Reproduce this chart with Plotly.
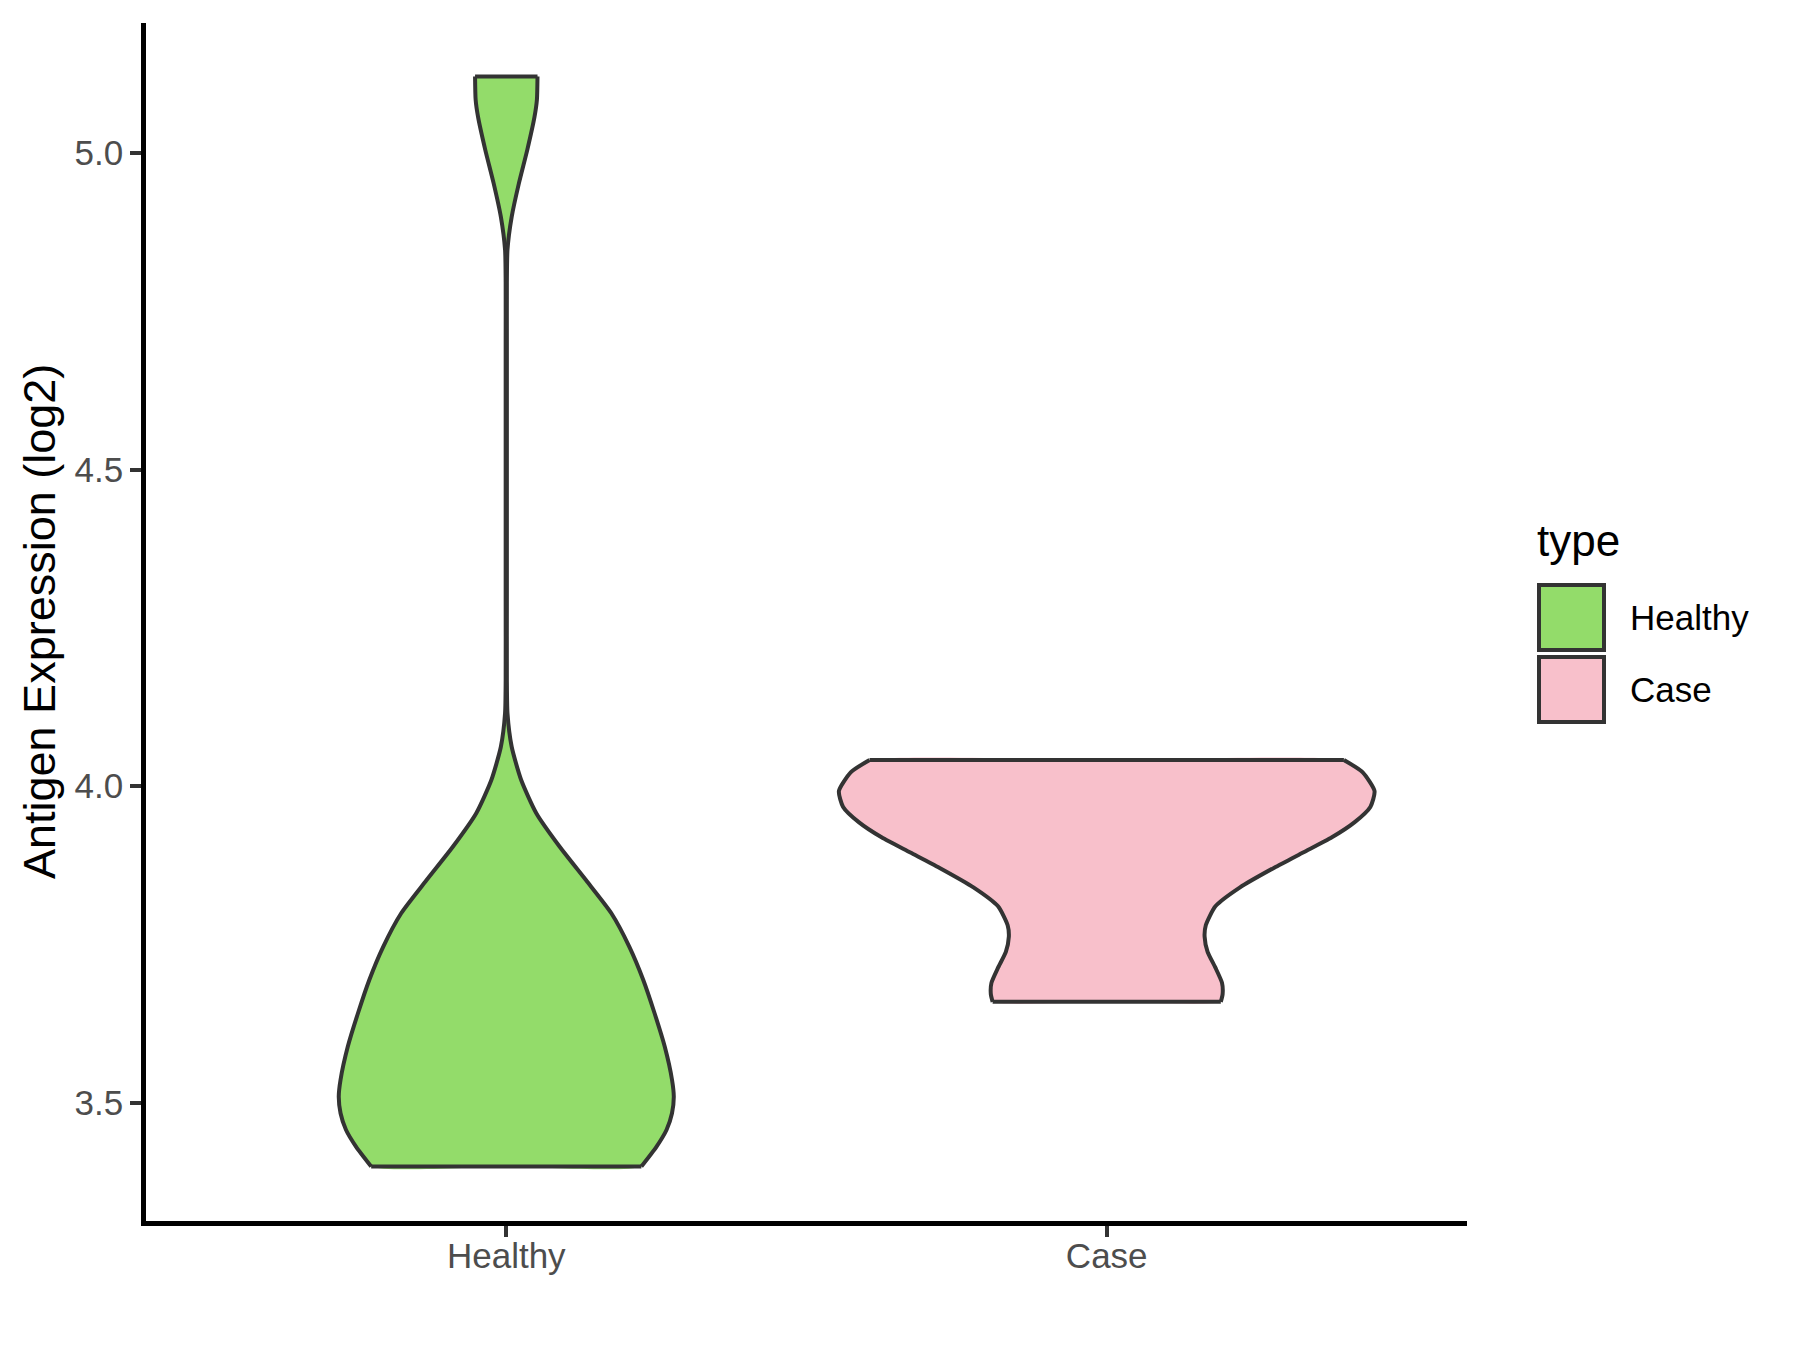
"""
Violin plot of antigen expression (log2), Healthy vs Case.

The violin outlines are read off the original ggplot figure: for each group
a list of expression levels and the half-width of the violin at that level
(in x-axis category units, 0.45 = widest violin).
"""

import plotly.graph_objects as go

# ─────────────────────────────────────────────────────────────────
# Data
# ─────────────────────────────────────────────────────────────────

categories = ["Healthy", "Case"]
fill_colors = ["#93DC6A", "#F8C0CB"]

healthy_y = [3.399, 3.430, 3.457, 3.483, 3.509, 3.536, 3.588, 3.641, 3.694,
             3.746, 3.799, 3.851, 3.904, 3.957, 4.009, 4.062, 4.115, 4.167,
             4.300, 4.500, 4.700, 4.795, 4.847, 4.899, 4.952, 5.005, 5.057,
             5.084, 5.121]
healthy_hw = [0.225, 0.250, 0.267, 0.276, 0.279, 0.276, 0.264, 0.247, 0.228,
              0.205, 0.175, 0.133, 0.089, 0.050, 0.025, 0.009, 0.002, 0.001,
              0.001, 0.001, 0.001, 0.001, 0.002, 0.009, 0.021, 0.035, 0.047,
              0.051, 0.052]

case_y = [3.659, 3.671, 3.689, 3.713, 3.738, 3.762, 3.780, 3.810, 3.840,
          3.871, 3.895, 3.919, 3.943, 3.967, 3.992, 4.022, 4.041]
case_hw = [0.190, 0.193, 0.192, 0.181, 0.168, 0.163, 0.165, 0.181, 0.222,
           0.279, 0.327, 0.375, 0.413, 0.439, 0.446, 0.426, 0.395]

y_ticks = [3.5, 4.0, 4.5, 5.0]

FONT = "Arial, Liberation Sans, sans-serif"
OUTLINE = "#333333"


def add_violin(fig, pos, ys, hws, color, name):
    """Trimmed violin: smooth (spline) sides, straight flat top and bottom.

    Drawn as a filled area without outline, then the curved sides and the
    two flat edges are stroked separately so the flat edges stay straight.
    """
    right_x = [pos + w for w in hws]
    left_x = [pos - w for w in reversed(hws)]
    rev_y = list(reversed(ys))

    # fill: a point in the middle of each flat edge keeps the spline close
    # to the straight edge drawn on top of it
    fig.add_trace(go.Scatter(
        x=right_x + [pos] + left_x + [pos, right_x[0]],
        y=list(ys) + [ys[-1]] + rev_y + [ys[0], ys[0]],
        mode="lines", fill="toself", fillcolor=color,
        line=dict(width=0, shape="spline", smoothing=0.6),
        name=name, showlegend=False, hoverinfo="skip",
    ))
    # curved sides (None breaks the line between the two sides)
    fig.add_trace(go.Scatter(
        x=right_x + [None] + left_x,
        y=list(ys) + [None] + rev_y,
        mode="lines",
        line=dict(color=OUTLINE, width=4, shape="spline", smoothing=0.6),
        showlegend=False, hoverinfo="skip",
    ))
    # flat trimmed edges
    fig.add_trace(go.Scatter(
        x=[right_x[-1], left_x[0], None, left_x[-1], right_x[0]],
        y=[ys[-1], ys[-1], None, ys[0], ys[0]],
        mode="lines", line=dict(color=OUTLINE, width=4),
        showlegend=False, hoverinfo="skip",
    ))


fig = go.Figure()
profiles = [(healthy_y, healthy_hw), (case_y, case_hw)]
for i, (cat, (ys, hws)) in enumerate(zip(categories, profiles)):
    add_violin(fig, i + 1, ys, hws, fill_colors[i], cat)

# ─────────────────────────────────────────────────────────────────
# Layout – ggplot theme_classic look
# ─────────────────────────────────────────────────────────────────

L, R, T, B = 146, 333, 23, 129
W, H = 1800, 1350
pw, ph = W - L - R, H - T - B


def px_x(px):
    return (px - L) / pw


def px_y(py):
    return (H - B - py) / ph


fig.update_layout(
    width=W, height=H,
    margin=dict(l=L, r=R, t=T, b=B, pad=0),
    plot_bgcolor="white", paper_bgcolor="white",
    font=dict(family=FONT),
    showlegend=False,
)
axis_style = dict(
    showgrid=False, zeroline=False,
    showline=True, linecolor="black", linewidth=4.5,
    ticks="outside", ticklen=11, tickwidth=4, tickcolor=OUTLINE,
    tickfont=dict(size=35, color="#4D4D4D", family=FONT),
)
fig.update_xaxes(range=[0.4, 2.6], tickvals=[1, 2], ticktext=categories,
                 **axis_style)
fig.update_yaxes(range=[3.3128, 5.2054], tickvals=y_ticks,
                 ticktext=[f"{v:.1f}" for v in y_ticks], **axis_style)

# x labels sit a little closer to the axis in ggplot
try:
    fig.update_xaxes(ticklabelstandoff=-11)
except ValueError:
    pass

# axis title as annotation for exact placement
fig.add_annotation(
    text="Antigen Expression (log2)", textangle=-90,
    xref="paper", yref="paper", x=px_x(39), y=0.5,
    xanchor="center", yanchor="middle", showarrow=False,
    font=dict(size=45, color="black", family=FONT),
)

# legend drawn by hand (ggplot keys are large squares)
fig.add_annotation(
    text="type", xref="paper", yref="paper",
    x=px_x(1535), y=px_y(540), xanchor="left", yanchor="middle",
    showarrow=False, font=dict(size=44, color="black", family=FONT),
)
key_tops = [585, 657]
for cat, color, top in zip(categories, fill_colors, key_tops):
    fig.add_shape(
        type="rect", xref="paper", yref="paper",
        x0=px_x(1539), x1=px_x(1604), y0=px_y(top), y1=px_y(top + 65),
        fillcolor=color, line=dict(color=OUTLINE, width=4),
    )
    fig.add_annotation(
        text=cat, xref="paper", yref="paper",
        x=px_x(1628), y=px_y(top + 32.5), xanchor="left", yanchor="middle",
        showarrow=False, font=dict(size=35, color="black", family=FONT),
    )

fig.write_html("out.html", config={"displayModeBar": False},
               post_script="document.body.style.margin='0';")
